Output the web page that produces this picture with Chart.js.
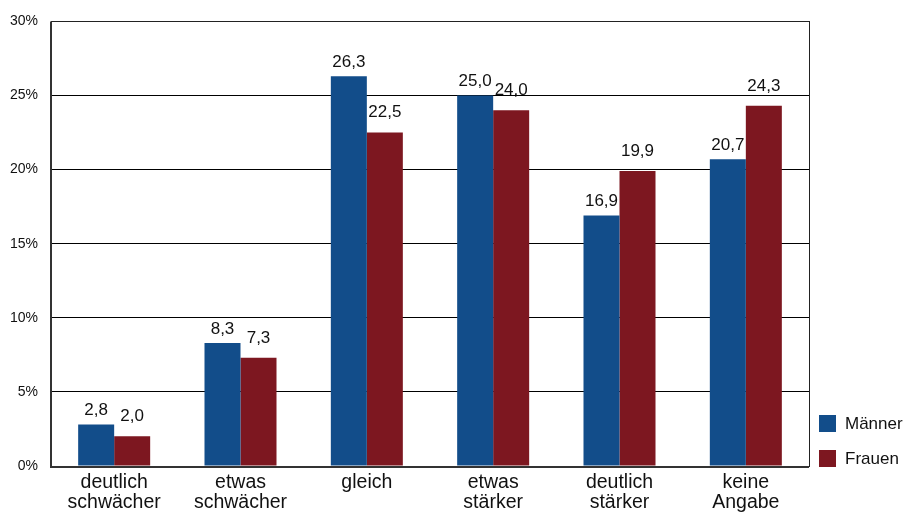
<!DOCTYPE html>
<html>
<head>
<meta charset="utf-8">
<script src="https://cdn.jsdelivr.net/npm/chart.js@4/dist/chart.umd.min.js"></script>
<style>
  html, body { margin: 0; padding: 0; background: #ffffff; }
  #wrap { width: 903px; height: 512px; }
</style>
</head>
<body>
<div id="wrap"><canvas id="c" width="903" height="512"></canvas></div>
<script>
// Kategorien der Selbsteinschätzung
const categories = [
  ['deutlich', 'schwächer'],
  ['etwas', 'schwächer'],
  'gleich',
  ['etwas', 'stärker'],
  ['deutlich', 'stärker'],
  ['keine', 'Angabe']
];

// Anteile in Prozent
const maenner = [2.8, 8.3, 26.3, 25.0, 16.9, 20.7];
const frauen  = [2.0, 7.3, 22.5, 24.0, 19.9, 24.3];

const seriesNames = ['Männer', 'Frauen'];
const yTicks = [0, 5, 10, 15, 20, 25, 30];

const FONT = '"Liberation Sans", Arial, sans-serif';
const BLUE = '#124d8a';
const RED = '#7d1720';

const fmt = v => v.toFixed(1).replace('.', ',');

// Werte über den Balken
const valueLabels = {
  id: 'valueLabels',
  afterDatasetsDraw(chart, args, opts) {
    const ctx = chart.ctx;
    ctx.save();
    ctx.font = '17px ' + FONT;
    ctx.fillStyle = '#111';
    ctx.textAlign = 'center';
    ctx.textBaseline = 'middle';
    chart.data.datasets.forEach((ds, di) => {
      const meta = chart.getDatasetMeta(di);
      const lift = opts.lift[di];
      meta.data.forEach((bar, i) => {
        ctx.fillText(fmt(ds.data[i]), bar.x, bar.y - lift);
      });
    });
    ctx.restore();
  }
};

// Rahmen um die Zeichenfläche
const frame = {
  id: 'frame',
  afterDraw(chart) {
    const { ctx, chartArea: a } = chart;
    ctx.save();
    ctx.strokeStyle = '#222';
    ctx.lineWidth = 1;
    ctx.strokeRect(Math.round(a.left) + 0.5, Math.round(a.top) + 0.5,
                   Math.round(a.right - a.left), Math.round(a.bottom - a.top));
    ctx.strokeStyle = '#333';
    ctx.lineWidth = 2;
    ctx.beginPath();
    ctx.moveTo(Math.round(a.left), a.top);
    ctx.lineTo(Math.round(a.left), a.bottom + 1);
    ctx.lineTo(a.right, a.bottom + 1);
    ctx.stroke();
    ctx.restore();
  }
};

// Legende unten rechts
const sideLegend = {
  id: 'sideLegend',
  afterDraw(chart) {
    const { ctx, chartArea: a } = chart;
    ctx.save();
    ctx.font = '17px ' + FONT;
    ctx.textAlign = 'left';
    ctx.textBaseline = 'middle';
    const box = 17;
    const x = a.right + 10;
    const rows = [a.bottom - 51, a.bottom - 16];
    chart.data.datasets.forEach((ds, di) => {
      const y = rows[di];
      ctx.fillStyle = ds.backgroundColor;
      ctx.fillRect(x, y, box, box);
      ctx.fillStyle = '#111';
      ctx.fillText(ds.label, x + box + 9, y + box / 2 + 0.5);
    });
    ctx.restore();
  }
};

new Chart(document.getElementById('c'), {
  type: 'bar',
  data: {
    labels: categories,
    datasets: [
      { label: seriesNames[0], data: maenner, backgroundColor: BLUE },
      { label: seriesNames[1], data: frauen, backgroundColor: RED }
    ]
  },
  options: {
    responsive: false,
    animation: false,
    devicePixelRatio: 1,
    layout: { padding: { top: 20, right: 94, bottom: 0, left: 0 } },
    datasets: { bar: { categoryPercentage: 0.57, barPercentage: 1.0 } },
    scales: {
      x: {
        grid: { display: false, drawTicks: false },
        border: { display: false },
        ticks: {
          color: '#111',
          padding: 7,
          maxRotation: 0,
          autoSkip: false,
          font: { family: FONT, size: 19.5, lineHeight: 1.02 }
        },
        afterFit(s) { s.height = 46; }
      },
      y: {
        min: 0,
        max: 30,
        afterBuildTicks(s) { s.ticks = yTicks.map(v => ({ value: v })); },
        grid: { color: '#000', lineWidth: 1, drawTicks: false },
        border: { display: false },
        ticks: {
          color: '#111',
          padding: 13,
          font: { family: FONT, size: 14 },
          callback: v => v + '%'
        },
        afterFit(s) { s.width = 51; }
      }
    },
    plugins: {
      legend: { display: false },
      tooltip: { enabled: false },
      valueLabels: { lift: [14, 20] }
    }
  },
  plugins: [valueLabels, frame, sideLegend]
});
</script>
</body>
</html>
